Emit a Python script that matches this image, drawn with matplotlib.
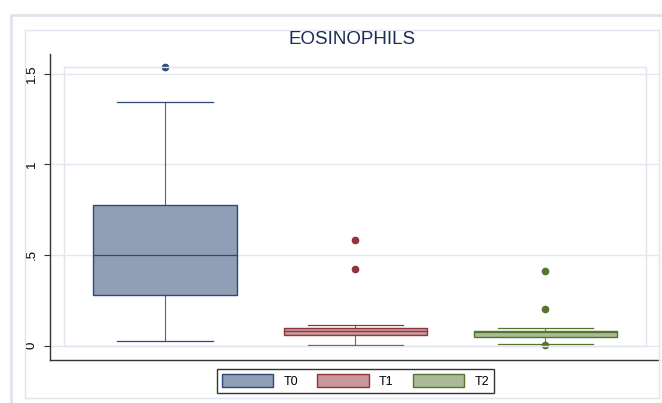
import matplotlib
matplotlib.use("Agg")
import matplotlib.pyplot as plt
from matplotlib.patches import Patch, Rectangle

plt.rcParams["font.family"] = ["Liberation Sans", "DejaVu Sans"]

# values
groups = ["T0", "T1", "T2"]
q1 = [0.279, 0.059, 0.046]
medians = [0.502, 0.083, 0.076]
q3 = [0.777, 0.100, 0.081]
whisker_lo = [0.028, 0.002, 0.009]
whisker_hi = [1.342, 0.112, 0.098]
outliers = [[1.536], [0.584, 0.423], [0.413, 0.200, 0.002]]
yticks = [0, 0.5, 1, 1.5]
ytick_labels = ["0", ".5", "1", "1.5"]

edge_colors = ["#2c4a7c", "#90353b", "#55752f"]
fill_colors = ["#909eb6", "#c9979c", "#a9ba96"]

W, H = 662, 403
fig = plt.figure(figsize=(W / 100, H / 100), dpi=100)


def fx(px):
    return px / W


def fy(py):
    return 1 - py / H


# graph region frames
fig.patches.append(Rectangle((fx(10.5), fy(420)), fx(700), (420 - 14.5) / H,
                             transform=fig.transFigure, fill=False, ec="#dfe3ec", lw=2))
fig.patches.append(Rectangle((fx(25), fy(398)), fx(659 - 25), (398 - 29.5) / H,
                             transform=fig.transFigure, fill=False, ec="#e2e5ed", lw=1))
# plot region frame
fig.patches.append(Rectangle((fx(64), fy(345.5)), fx(646 - 64), (345.5 - 67) / H,
                             transform=fig.transFigure, fill=False, ec="#e2e5ed", lw=1))

ax = fig.add_axes([fx(50), fy(360), fx(609), 306 / H])
ax.patch.set_alpha(0)

stats = []
for i, g in enumerate(groups):
    stats.append({
        "label": g, "q1": q1[i], "med": medians[i], "q3": q3[i],
        "whislo": whisker_lo[i], "whishi": whisker_hi[i], "fliers": outliers[i],
    })

positions = [1, 2, 3]
for i, st in enumerate(stats):
    c = edge_colors[i]
    ax.bxp([st], positions=[positions[i]], widths=0.753, patch_artist=True,
           showfliers=True, manage_ticks=False,
           boxprops=dict(facecolor=fill_colors[i], edgecolor=c, linewidth=1.0),
           medianprops=dict(color=c, linewidth=0.9),
           whiskerprops=dict(color=c, linewidth=0.8, alpha=0.85),
           capprops=dict(color=c, linewidth=0.9),
           capwidths=0.5,
           flierprops=dict(marker="o", markersize=4.5, markerfacecolor=c,
                           markeredgecolor=c, linestyle="none"))

ax.set_xlim(0.395, 3.598)
ax.set_ylim(-0.079, 1.608)
ax.set_xticks([])
ax.set_yticks(yticks)
ax.set_yticklabels(ytick_labels, rotation=90, va="center", fontsize=9.5)
ax.tick_params(axis="y", length=4, width=0.8, color="#333333", pad=5)
ax.yaxis.grid(True, color="#e4e7ee", linewidth=1)
ax.set_axisbelow(True)
for side in ["top", "right"]:
    ax.spines[side].set_visible(False)
for side in ["left", "bottom"]:
    ax.spines[side].set_color("#333333")
    ax.spines[side].set_linewidth(1.0)

fig.text(fx(352), fy(39), "EOSINOPHILS", ha="center", va="center",
         fontsize=13.5, color="#1c2d55")

handles = [Patch(facecolor=fill_colors[i], edgecolor=edge_colors[i], linewidth=1)
           for i in range(len(groups))]
leg = fig.legend(handles, groups, loc="center", bbox_to_anchor=(fx(355.5), fy(381)),
                 ncol=3, fontsize=9, frameon=True, fancybox=False,
                 handlelength=4.1, handleheight=1.2, handletextpad=0.85,
                 columnspacing=1.5, borderpad=0.4, borderaxespad=0)
leg.get_frame().set_edgecolor("black")
leg.get_frame().set_linewidth(1.0)

fig.savefig("out.png", dpi=100)
